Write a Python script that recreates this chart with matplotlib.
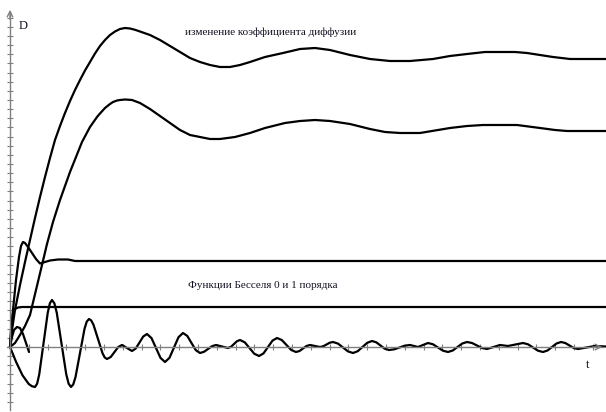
import numpy as np
import matplotlib
matplotlib.use("Agg")
import matplotlib.pyplot as plt

# ---- data (t, D) ----
tA = [0, 0.2, 0.5, 1.0, 1.5, 2.0, 2.5, 3.0, 3.5, 4.0, 4.5, 5.0, 5.5, 6.0, 6.5, 7.0, 7.5, 8.0,
      8.5, 9.0, 9.5, 10.0, 10.5, 11.0, 11.5, 12.0, 12.5, 13.0, 14.0, 15.0, 16.0, 17.0, 18.0,
      19.0, 20.0, 21.0, 22.0, 23.0, 24.0, 25.5, 27.3, 29.0, 30.5, 32.0, 34.0, 36.0, 38.0,
      40.0, 42.3, 44.0, 45.7, 47.5, 49.0, 50.5, 51.7, 53.0, 54.3, 56.0, 57.3, 59.6]
DA = [0, 1.7, 3.7, 6.2, 8.5, 10.7, 12.9, 15.0, 17.0, 18.9, 20.7, 22.1, 23.4, 24.6, 25.7, 26.7,
      27.65, 28.5, 29.35, 30.1, 30.7, 31.2, 31.55, 31.8, 31.9, 31.85, 31.72, 31.55, 31.2,
      30.7, 30.1, 29.5, 28.9, 28.5, 28.2, 28.0, 28.0, 28.2, 28.5, 29.0, 29.4, 29.8, 29.9,
      29.7, 29.2, 28.8, 28.6, 28.6, 28.8, 29.1, 29.3, 29.5, 29.5, 29.5, 29.4, 29.2, 29.0,
      28.8, 28.8, 28.8]

tB = [0, 0.5, 1.0, 1.5, 2.0, 2.6, 3.2, 3.7, 4.3, 5.0, 6.0, 7.2, 8.0, 8.7, 9.0, 9.5, 10.0, 10.3,
      10.7, 11.0, 11.5, 12.2, 13.0, 14.0, 15.0, 16.0, 17.0, 18.0, 19.0, 20.0, 21.0, 22.5, 24.0,
      25.5, 27.5, 29.0, 30.5, 32.0, 34.0, 36.0, 37.5, 39.0, 41.0, 44.0, 45.7, 47.3, 49.0, 50.7,
      53.0, 54.5, 55.7, 59.6]
DB = [0, 0.4, 1.2, 2.1, 3.2, 5.7, 8.2, 10.3, 12.5, 14.7, 17.5, 20.5, 22.0, 23.0, 23.35, 23.9,
      24.3, 24.5, 24.65, 24.7, 24.75, 24.7, 24.4, 23.8, 23.1, 22.4, 21.7, 21.2, 21.0, 20.8,
      20.8, 21.0, 21.4, 21.9, 22.4, 22.6, 22.7, 22.6, 22.3, 21.8, 21.5, 21.4, 21.4, 21.9, 22.1,
      22.2, 22.2, 22.2, 21.9, 21.7, 21.6, 21.6]

tC = [0, 0.3, 0.6, 0.9, 1.1, 1.3, 1.5, 1.8, 2.2, 2.6, 3.0, 3.5, 4.0, 4.8, 5.8, 6.5, 59.6]
DC = [0, 3.7, 6.7, 9.0, 10.1, 10.5, 10.4, 10.0, 9.4, 8.8, 8.35, 8.5, 8.65, 8.75, 8.75, 8.6, 8.6]

tD = [0, 0.1, 0.2, 0.3, 0.5, 0.8, 1.2, 59.6]
DD = [0, 1.7, 2.7, 3.4, 3.8, 3.95, 4.0, 4.0]

tE = [0, 0.625, 1.25, 1.875, 2.19, 2.5, 2.7125, 2.925, 3.35, 3.775, 3.9875, 4.2, 4.4375, 4.675,
      5.15, 5.625, 5.8625, 6.1, 6.325, 6.55, 7.0, 7.45, 7.675, 7.9, 8.125, 8.35, 8.8, 9.25,
      9.475, 9.7, 10.075, 10.45, 10.825, 11.2, 11.7, 12.2, 12.575, 12.95,
      13.325, 13.7, 14.15, 14.6, 15.05, 15.5, 15.95, 16.4, 16.85, 17.3, 17.725, 18.15, 18.575,
      19.0, 19.4, 19.8, 20.2, 20.6, 21.2, 21.8, 22.1, 22.4, 22.7, 23.0, 23.475, 23.95, 24.425,
      24.9, 25.35, 25.8, 26.25, 26.7, 27.175, 27.65, 28.125, 28.6, 28.95, 29.3, 29.65, 30.0,
      30.5, 31.0, 31.325, 31.65, 31.975, 32.3, 32.8, 33.3, 33.8, 34.3, 34.775, 35.25, 35.725,
      36.2, 36.625, 37.05, 37.475, 37.9, 38.425, 38.95, 39.475, 40.0, 40.4, 40.8, 41.3, 41.8,
      42.3, 42.8, 43.3, 43.8, 44.275, 44.75, 45.225, 45.7, 46.2, 46.7, 47.2, 47.7, 48.35, 49.0,
      49.8, 50.55, 51.3, 51.8, 52.3, 52.8, 53.3, 53.75, 54.2, 54.65, 55.1, 55.525, 55.95,
      56.375, 56.8, 57.65, 58.5, 59.6]
DE = [0, -1.53, -2.83, -3.70, -3.92, -4.0, -3.67, -2.73, 0.35, 3.43, 4.37, 4.7, 4.37, 3.43,
      0.35, -2.73, -3.67, -4.0, -3.74, -3.01, -0.6, 1.81, 2.54, 2.8, 2.65, 2.22, 0.8, -0.62,
      -1.05, -1.2, -1.0, -0.5, 0.0, 0.2, -0.1, -0.4, -0.15, 0.45,
      1.05, 1.3, 0.89, -0.1, -1.09, -1.5, -1.08, -0.05, 0.98, 1.4, 1.11, 0.4, -0.31, -0.6,
      -0.48, -0.2, 0.08, 0.2, 0.05, -0.1, 0.02, 0.3, 0.58, 0.7, 0.47, -0.1, -0.67, -0.9, -0.64,
      0.0, 0.64, 0.9, 0.70, 0.2, -0.30, -0.5, -0.40, -0.15, 0.10, 0.2, 0.1, 0.0, 0.07, 0.25,
      0.43, 0.5, 0.34, -0.05, -0.44, -0.6, -0.42, 0.0, 0.42, 0.6, 0.47, 0.15, -0.17, -0.3,
      -0.23, -0.05, 0.13, 0.2, 0.1, 0.0, 0.2, 0.4, 0.27, -0.05, -0.37, -0.5, -0.35, 0.0, 0.35,
      0.5, 0.40, 0.15, -0.10, -0.2, 0.0, 0.2, 0.1, 0.25, 0.4, 0.27, -0.05, -0.37, -0.5, -0.35,
      0.0, 0.35, 0.5, 0.40, 0.15, -0.10, -0.2, -0.05, 0.1, 0.05]

tF = [0, 0.2, 0.4, 0.7, 1.0, 1.3, 1.6, 1.9]
DF = [0, 1.0, 1.7, 2.0, 1.9, 1.3, 0.4, -0.5]

title_text = "изменение коэффициента диффузии"
bessel_text = "Функции Бесселя 0 и 1 порядка"

# ---- figure ----
fig = plt.figure(figsize=(6.06, 4.12), dpi=100)
ax = fig.add_axes([0, 0, 1, 1])
ax.set_xlim(-1.0, 59.6)
ax.set_ylim(-6.5, 34.7)

axis_col = "#808080"
for s in ["top", "right"]:
    ax.spines[s].set_visible(False)
ax.spines["left"].set_position(("data", 0))
ax.spines["bottom"].set_position(("data", 0))
ax.spines["left"].set_bounds(-6.3, 33.5)
ax.spines["bottom"].set_bounds(-0.3, 59.3)
for s in ["left", "bottom"]:
    ax.spines[s].set_color(axis_col)
    ax.spines[s].set_linewidth(1.0)

ax.set_xticks(np.arange(1, 32) * 1.88)
ax.set_yticks(np.arange(-6, 37) * 0.915)
ax.tick_params(direction="inout", length=5, width=0.8, color=axis_col,
               labelbottom=False, labelleft=False)

ax.annotate("", xy=(0, 34.0), xytext=(0, 32.5),
            arrowprops=dict(arrowstyle="->", color=axis_col, lw=1.0))
ax.annotate("", xy=(59.5, 0), xytext=(58.0, 0),
            arrowprops=dict(arrowstyle="->", color=axis_col, lw=1.0))

lw = 1.6
for t, d in [(tA, DA), (tB, DB), (tC, DC), (tD, DD), (tE, DE), (tF, DF)]:
    ax.plot(t, d, color="black", lw=lw, solid_joinstyle="round", solid_capstyle="round")

serif = ["Liberation Serif", "DejaVu Serif"]
ax.text(26.1, 31.5, title_text, ha="center", va="center", fontsize=8, family=serif,
        color="#111122")
ax.text(25.3, 6.2, bessel_text, ha="center", va="center", fontsize=8, family=serif,
        color="#111122")
ax.text(1.3, 32.1, "D", ha="center", va="center", fontsize=9, family=serif, color="#111122")
ax.text(57.8, -1.8, "t", ha="center", va="center", fontsize=9, family=serif, color="#111122")

fig.savefig("out.png", dpi=100)
